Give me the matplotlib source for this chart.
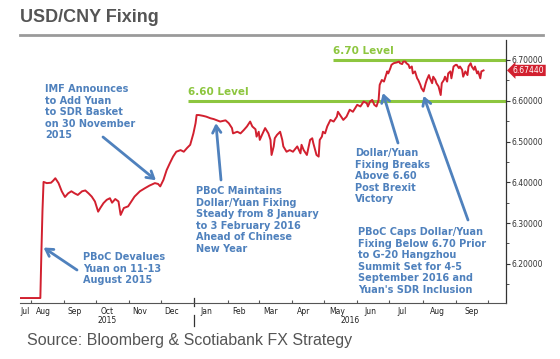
import matplotlib
matplotlib.use("Agg")
import matplotlib.pyplot as plt
import matplotlib.dates as mdates
import matplotlib.transforms as mtransforms
import pandas as pd

# USD/CNY daily fixing
fix_dates = [
    "2015-07-22", "2015-08-10", "2015-08-11", "2015-08-12", "2015-08-13", "2015-08-16",
    "2015-08-20", "2015-08-22", "2015-08-24", "2015-08-27", "2015-08-30", "2015-09-02",
    "2015-09-05", "2015-09-08", "2015-09-11", "2015-09-14", "2015-09-18", "2015-09-21",
    "2015-09-24", "2015-09-27", "2015-09-30", "2015-10-03", "2015-10-05", "2015-10-08",
    "2015-10-11", "2015-10-14", "2015-10-16", "2015-10-19", "2015-10-22", "2015-10-24",
    "2015-10-27", "2015-10-31", "2015-11-03", "2015-11-06", "2015-11-11", "2015-11-16",
    "2015-11-20", "2015-11-25", "2015-11-28", "2015-11-30", "2015-12-03", "2015-12-06",
    "2015-12-09", "2015-12-12", "2015-12-15", "2015-12-19", "2015-12-22", "2015-12-25",
    "2015-12-28", "2015-12-31", "2016-01-02", "2016-01-03", "2016-01-05", "2016-01-09",
    "2016-01-12", "2016-01-16", "2016-01-19", "2016-01-22", "2016-01-25", "2016-01-30",
    "2016-02-02", "2016-02-05", "2016-02-06", "2016-02-10", "2016-02-13", "2016-02-16",
    "2016-02-19", "2016-02-22", "2016-02-24", "2016-02-27", "2016-02-28", "2016-03-01",
    "2016-03-02", "2016-03-04", "2016-03-07", "2016-03-10", "2016-03-12", "2016-03-13",
    "2016-03-15", "2016-03-16", "2016-03-18", "2016-03-21", "2016-03-23", "2016-03-24",
    "2016-03-27", "2016-03-30", "2016-04-02", "2016-04-06", "2016-04-09", "2016-04-10",
    "2016-04-12", "2016-04-15", "2016-04-18", "2016-04-20", "2016-04-21", "2016-04-24",
    "2016-04-26", "2016-04-27", "2016-04-29", "2016-04-30", "2016-05-02", "2016-05-04",
    "2016-05-07", "2016-05-10", "2016-05-13", "2016-05-14", "2016-05-16", "2016-05-19",
    "2016-05-22", "2016-05-25", "2016-05-28", "2016-06-01", "2016-06-04", "2016-06-07",
    "2016-06-10", "2016-06-11", "2016-06-13", "2016-06-15", "2016-06-17", "2016-06-19",
    "2016-06-21", "2016-06-22", "2016-06-24", "2016-06-26", "2016-06-27", "2016-06-29",
    "2016-06-30", "2016-07-02", "2016-07-03", "2016-07-05", "2016-07-08", "2016-07-10",
    "2016-07-11", "2016-07-13", "2016-07-14", "2016-07-16", "2016-07-17", "2016-07-19",
    "2016-07-20", "2016-07-22", "2016-07-23", "2016-07-25", "2016-07-27", "2016-07-28",
    "2016-07-30", "2016-07-31", "2016-08-02", "2016-08-04", "2016-08-05", "2016-08-07",
    "2016-08-08", "2016-08-10", "2016-08-11", "2016-08-13", "2016-08-14", "2016-08-16",
    "2016-08-18", "2016-08-19", "2016-08-21", "2016-08-22", "2016-08-24", "2016-08-25",
    "2016-08-27", "2016-08-28", "2016-08-30", "2016-09-01", "2016-09-02", "2016-09-04",
    "2016-09-05", "2016-09-07", "2016-09-08", "2016-09-10", "2016-09-12", "2016-09-13",
    "2016-09-15", "2016-09-16", "2016-09-18", "2016-09-19", "2016-09-21", "2016-09-22",
    "2016-09-24", "2016-09-25", "2016-09-27",
]
fix_values = [
    6.1162, 6.1162, 6.2298, 6.3306, 6.4010, 6.398,
    6.399, 6.404, 6.410, 6.398, 6.378, 6.364,
    6.373, 6.378, 6.373, 6.369, 6.378, 6.380,
    6.373, 6.365, 6.353, 6.328, 6.337, 6.349,
    6.357, 6.361, 6.350, 6.359, 6.353, 6.320,
    6.337, 6.341, 6.353, 6.365, 6.378, 6.386,
    6.392, 6.398, 6.396, 6.390, 6.406, 6.430,
    6.447, 6.463, 6.475, 6.479, 6.475, 6.484,
    6.492, 6.520, 6.545, 6.565, 6.565, 6.563,
    6.561, 6.557, 6.555, 6.552, 6.549, 6.552,
    6.545, 6.533, 6.520, 6.524, 6.520, 6.528,
    6.537, 6.549, 6.537, 6.530, 6.512, 6.524,
    6.504, 6.516, 6.533, 6.520, 6.504, 6.467,
    6.488, 6.508, 6.516, 6.524, 6.504, 6.488,
    6.475, 6.479, 6.475, 6.488, 6.471, 6.492,
    6.479, 6.467, 6.504, 6.508, 6.496, 6.467,
    6.463, 6.504, 6.512, 6.524, 6.520, 6.537,
    6.553, 6.549, 6.561, 6.573, 6.565, 6.553,
    6.561, 6.578, 6.573, 6.590, 6.586, 6.598,
    6.594, 6.586, 6.598, 6.602, 6.590, 6.586,
    6.602, 6.639, 6.651, 6.647, 6.655, 6.672,
    6.667, 6.680, 6.688, 6.692, 6.694, 6.696,
    6.692, 6.690, 6.696, 6.696, 6.692, 6.688,
    6.680, 6.684, 6.667, 6.672, 6.655, 6.651,
    6.639, 6.631, 6.623, 6.643, 6.651, 6.663,
    6.655, 6.643, 6.659, 6.651, 6.643, 6.635,
    6.614, 6.643, 6.651, 6.659, 6.647, 6.667,
    6.672, 6.655, 6.684, 6.688, 6.688, 6.680,
    6.684, 6.676, 6.659, 6.672, 6.663, 6.684,
    6.692, 6.684, 6.676, 6.684, 6.667, 6.672,
    6.655, 6.672, 6.6744,
]

# horizontal reference levels and where they start
levels = [6.60, 6.70]
level_labels = ["6.60 Level", "6.70 Level"]
level_starts = ["2015-12-26", "2016-05-09"]

# month labels (text) and where they sit on the axis
month_labels = ["Jul", "Aug", "Sep", "Oct", "Nov", "Dec", "Jan", "Feb", "Mar",
                "Apr", "May", "Jun", "Jul", "Aug", "Sep"]
month_label_dates = ["2015-07-27", "2015-08-13", "2015-09-11", "2015-10-11", "2015-11-11",
                     "2015-12-11", "2016-01-12", "2016-02-12", "2016-03-12", "2016-04-12",
                     "2016-05-13", "2016-06-13", "2016-07-13", "2016-08-15", "2016-09-16"]

y_ticks = [6.20, 6.30, 6.40, 6.50, 6.60, 6.70]
last_value = 6.67440

# annotation texts and the point each arrow points at
notes = [
    "IMF Announces\nto Add Yuan\nto SDR Basket\non 30 November\n2015",
    "PBoC Devalues\nYuan on 11-13\nAugust 2015",
    "PBoC Maintains\nDollar/Yuan Fixing\nSteady from 8 January\nto 3 February 2016\nAhead of Chinese\nNew Year",
    "Dollar/Yuan\nFixing Breaks\nAbove 6.60\nPost Brexit\nVictory",
    "PBoC Caps Dollar/Yuan\nFixing Below 6.70 Prior\nto G-20 Hangzhou\nSummit Set for 4-5\nSeptember 2016 and\nYuan's SDR Inclusion",
]
note_targets = [("2015-11-26", 6.405), ("2015-08-13", 6.24), ("2016-01-21", 6.545),
                ("2016-06-25", 6.619), ("2016-08-02", 6.612)]

dates = pd.to_datetime(fix_dates)

W, H = 560, 359
def px(x, y):
    return x / W, 1 - y / H

fig = plt.figure(figsize=(5.6, 3.59), dpi=100)
ax = fig.add_axes([20 / W, 1 - 303 / H, 486 / W, 263 / H])

red = "#d2202f"
green = "#8dc63f"
blue = "#4f81bd"

ax.plot(dates, fix_values, color=red, lw=1.4, zorder=3)

x_left = pd.Timestamp("2015-07-22")
x_right = pd.Timestamp("2016-10-18")
ax.set_xlim(x_left, x_right)
ax.set_ylim(6.104, 6.749)

for lvl, lab, start in zip(levels, level_labels, level_starts):
    ax.hlines(lvl, pd.Timestamp(start), x_right, color=green, lw=2.2, zorder=2)
    ax.annotate(lab, xy=(pd.Timestamp(start), lvl), xytext=(0, 3), textcoords="offset points",
                color=green, fontsize=7.5, fontweight="bold", ha="left", va="bottom")

# spines
for s in ["top", "left"]:
    ax.spines[s].set_visible(False)
ax.spines["bottom"].set_color("#555555")
ax.spines["right"].set_color("#333333")
ax.spines["right"].set_linewidth(0.9)

# y axis on the right
ax.yaxis.tick_right()
ax.set_yticks(y_ticks)
ax.set_yticklabels(["%.5f" % v for v in y_ticks])
ax.set_yticks([6.15, 6.25, 6.35, 6.45, 6.55, 6.65], minor=True)
ax.tick_params(axis="y", which="major", length=3, width=0.8, labelsize=5.5, pad=1,
               colors="#333333")
ax.tick_params(axis="y", which="minor", length=2, width=0.6, colors="#333333")

# x axis: ticks on month boundaries, labels mid month
ax.xaxis.set_major_locator(mdates.MonthLocator())
ax.xaxis.set_major_formatter(plt.NullFormatter())
ax.tick_params(axis="x", which="major", direction="in", length=2.5, width=0.8, colors="#555555")
ax.set_xticks(pd.to_datetime(month_label_dates), minor=True)
ax.set_xticklabels(month_labels, minor=True)
ax.tick_params(axis="x", which="minor", length=0, labelsize=5.5, pad=3, labelcolor="#222222")

trans = mtransforms.blended_transform_factory(ax.transData, ax.transAxes)
jan1 = pd.Timestamp("2016-01-01")
ax.plot([jan1, jan1], [-0.012, 0.02], transform=trans, color="#333333", lw=0.9, clip_on=False)
ax.plot([jan1, jan1], [-0.045, -0.088], transform=trans, color="#333333", lw=0.9, clip_on=False)
ax.text(x_left + (jan1 - x_left) / 2, -0.068, "2015", transform=trans, fontsize=5.5,
        ha="center", va="center", color="#222222")
ax.text(jan1 + (x_right - jan1) / 2, -0.068, "2016", transform=trans, fontsize=5.5,
        ha="center", va="center", color="#222222")

# last value tag
ax.annotate("%.5f" % last_value, xy=(1, last_value), xycoords=("axes fraction", "data"),
            xytext=(5, 0), textcoords="offset points", fontsize=5.5, color="white",
            ha="left", va="center", annotation_clip=False,
            bbox=dict(boxstyle="larrow,pad=0.15", fc=red, ec="none"))

# annotations
text_pos = [(45, 84), (83, 252), (196, 186), (355, 148), (358, 227)]
tail_pos = [(103, 137), (77, 270), (221, 180), (398, 143), (468, 220)]
for note, (td, tv), tp, tl in zip(notes, note_targets, text_pos, tail_pos):
    fig.text(*px(*tp), note, color=blue, fontsize=7, fontweight="bold",
             ha="left", va="top", linespacing=1.2)
    ax.annotate("", xy=(pd.Timestamp(td), tv), xycoords="data",
                xytext=px(*tl), textcoords="figure fraction",
                arrowprops=dict(arrowstyle="->,head_length=0.5,head_width=0.3",
                                color=blue, lw=2, shrinkA=0, shrinkB=0))

# title, rule and source
fig.text(*px(20, 18), "USD/CNY Fixing", fontsize=13, fontweight="bold",
         color="#555555", family="Liberation Sans", ha="left", va="center")
fig.add_artist(plt.Line2D([20 / W, 543 / W], [1 - 35 / H, 1 - 35 / H],
                          color="#9a9a9a", lw=2, transform=fig.transFigure))
fig.text(*px(27, 340), "Source: Bloomberg & Scotiabank FX Strategy", fontsize=11.5,
         color="#555555", family="Liberation Sans", ha="left", va="center")

fig.savefig("out.png", dpi=100)
